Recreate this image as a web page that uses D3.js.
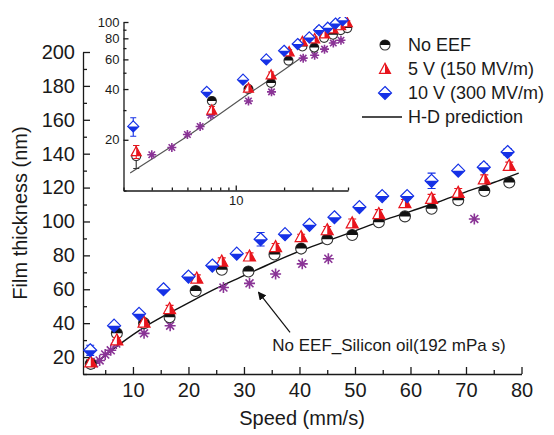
<!DOCTYPE html>
<html>
<head>
<meta charset="utf-8">
<script src="https://cdn.jsdelivr.net/npm/d3@7"></script>
<style>
  body { margin: 0; background: #fff; }
  svg { display: block; font-family: "Liberation Sans", Arial, sans-serif; }
</style>
</head>
<body>
<svg id="chart" width="554" height="435"></svg>
<script>
/*
  Film thickness vs speed, with log-log inset.
*/

// No EEF series.
const speed_noEEF = [2.4, 7.1, 12.0, 16.6, 21.3, 26.0, 30.8, 35.5, 40.3, 45.0, 49.5, 54.3, 59.0, 63.8, 68.6, 73.3, 77.8];
const film_noEEF = [16, 34, 40, 43.5, 59, 71.5, 70.5, 80.5, 84, 89.5, 92, 99.5, 103, 107.5, 112.5, 118, 123];
const err_noEEF = [2.5, 1.5, 2, 1.5, 2, 1.5, 1, 1.5, 1.5, 1.5, 1.5, 1.5, 1.5, 1.5, 1.5, 1.5, 1.5];

// 5 V series.
const speed_5V = [2.4, 7.1, 12.0, 16.6, 21.5, 26.0, 31.0, 35.7, 40.3, 45.0, 49.5, 54.3, 59.0, 63.8, 68.6, 73.3, 77.8];
const film_5V = [17, 30, 40.5, 48.5, 66.5, 76.5, 79.5, 85, 91, 95, 99, 104.5, 111, 113.5, 117, 125, 133];
const err_5V = [1.5, 1.5, 1.5, 2, 2, 2, 2, 2, 1.5, 2, 2.5, 2.5, 2, 2.5, 2.5, 2.5, 2];

// 10 V series.
const speed_10V = [2.3, 6.6, 11.1, 15.5, 20.0, 24.3, 28.7, 33.0, 37.4, 41.8, 46.3, 50.8, 54.9, 59.4, 63.8, 68.6, 73.2, 77.5];
const film_10V = [24, 38.5, 45.5, 60, 67.5, 74, 81, 89.5, 92.5, 98, 102.5, 108.5, 115, 115, 124, 130, 132, 141];
const err_10V = [3, 1.5, 1.5, 1, 1.5, 1.5, 1.5, 4, 1, 1, 1, 1.5, 2, 1.5, 4.5, 1, 2, 2];

// Silicon oil reference points (purple stars).
const speed_oil = [3.0, 4.0, 5.0, 6.0, 7.0, 12.0, 16.7, 26.3, 31.0, 35.7, 40.5, 45.2, 71.5];
const film_oil = [16.3, 18, 21.5, 24, 28, 34, 38.5, 61, 63.5, 69, 75, 78, 101.5];

// H-D prediction curve.
const speed_hd = [2.2, 5, 8, 12, 16, 20, 25, 30, 35, 40, 45, 50, 55, 60, 65, 70, 75, 79.5];
const film_hd = [12.7, 21, 28.5, 37.5, 45, 52, 60.5, 68, 75.5, 82.5, 88.5, 94.5, 100.5, 106, 111.5, 117.5, 123, 128.5];

// Tick values.
const main_xTicks = [10, 20, 30, 40, 50, 60, 70, 80];
const main_yTicks = [20, 40, 60, 80, 100, 120, 140, 160, 180, 200];
const inset_xTicks = [10];
const inset_yTicks = [20, 40, 60, 80, 100];

const legend_labels = ["No EEF", "5 V (150 MV/m)", "10 V (300 MV/m)", "H-D prediction"];
const annot_text = "No EEF_Silicon oil(192 mPa s)";

const col_red = "#e8141c", col_blue = "#1531e6", col_purple = "#8a3496", col_ink = "#1a1a1a";

let svg = d3.select("#chart");
svg.append("rect").attr("width", 554).attr("height", 435).attr("fill", "#fff");

// Scales.
let main_x = d3.scaleLinear().domain([1, 80]).range([83, 521.5]);
let main_y = d3.scaleLinear().domain([10, 200]).range([374, 52]);
let inset_x = d3.scaleLog().domain([2, 50]).range([123.5, 348]);
let inset_y = d3.scaleLog().domain([10, 100]).range([190.5, 22]);

// Symbol helpers (half filled, like the Origin markers).
const sym_circle = (g, r) => {
    g.append("circle").attr("r", r).attr("fill", "#fff").attr("stroke", "#333").attr("stroke-width", 1.1);
    g.append("path").attr("d", `M${-r},0A${r},${r} 0 0 1 ${r},0Z`).attr("fill", "#111");
};
const sym_triangle = (g, s) => {
    g.append("path").attr("d", `M0,${-1.05 * s}L${s},${0.8 * s}L${-s},${0.8 * s}Z`)
        .attr("fill", "#fff").attr("stroke", col_red).attr("stroke-width", 1.2);
    g.append("path").attr("d", `M0,${-1.05 * s}L${s},${0.8 * s}L0,${0.8 * s}Z`).attr("fill", col_red);
};
const sym_diamond = (g, s) => {
    g.append("path").attr("d", `M0,${-s}L${s},0L0,${s}L${-s},0Z`)
        .attr("fill", "#fff").attr("stroke", col_blue).attr("stroke-width", 1.2);
    g.append("path").attr("d", `M${-s},0L${s},0L0,${s}Z`).attr("fill", col_blue);
};
const sym_star = (g, s) => {
    let d = s * 0.72;
    g.append("path")
        .attr("d", `M${-s},0H${s}M0,${-s}V${s}M${-d},${-d}L${d},${d}M${-d},${d}L${d},${-d}`)
        .attr("stroke", col_purple).attr("stroke-width", 1.6).attr("fill", "none");
    g.append("circle").attr("r", s * 0.3).attr("fill", col_purple);
};

// Draw error bars + markers for one series.
const draw_series = (layer, xs, ys, es, xScale, yScale, sym, size, color, cap) => {
    let g = layer.append("g");
    xs.forEach((v, i) => {
        let px = xScale(v), py = yScale(ys[i]);
        if (es) {
            let y0 = yScale(ys[i] - es[i]), y1 = yScale(ys[i] + es[i]);
            g.append("path")
                .attr("d", `M${px},${y0}V${y1}M${px - cap},${y0}H${px + cap}M${px - cap},${y1}H${px + cap}`)
                .attr("stroke", color).attr("stroke-width", 1.1).attr("fill", "none");
        }
        sym(g.append("g").attr("transform", `translate(${px},${py})`), size);
    });
};

// Axes drawing helper.
const draw_axes = (xScale, yScale, xMajor, xMinor, yMajor, yMinor, fontSize, majLen, minLen, pad) => {
    let g = svg.append("g");
    let y0 = yScale.range()[0], x0 = xScale.range()[0];
    g.append("g").attr("transform", `translate(0,${y0})`)
        .call(d3.axisBottom(xScale).tickValues(xMajor).tickFormat(d3.format("d"))
            .tickSizeInner(-majLen).tickSizeOuter(0).tickPadding(pad));
    g.append("g").attr("transform", `translate(0,${y0})`)
        .call(d3.axisBottom(xScale).tickValues(xMinor).tickFormat("").tickSizeInner(-minLen).tickSizeOuter(0))
        .select(".domain").remove();
    g.append("g").attr("transform", `translate(${x0},0)`)
        .call(d3.axisLeft(yScale).tickValues(yMajor).tickFormat(d3.format("d"))
            .tickSizeInner(-majLen).tickSizeOuter(0).tickPadding(pad - 1));
    g.append("g").attr("transform", `translate(${x0},0)`)
        .call(d3.axisLeft(yScale).tickValues(yMinor).tickFormat("").tickSizeInner(-minLen).tickSizeOuter(0))
        .select(".domain").remove();
    g.selectAll("path, line").attr("stroke", col_ink).attr("stroke-width", 1.3);
    g.selectAll("g").attr("font-size", null).attr("font-family", null);
    g.selectAll("text").attr("fill", col_ink).attr("font-size", fontSize);
    return g;
};

// Main axes.
draw_axes(main_x, main_y, main_xTicks, [5, 15, 25, 35, 45, 55, 65, 75], main_yTicks,
    [10, 30, 50, 70, 90, 110, 130, 150, 170, 190], 20, 7, 4, 9);

// Inset axes.
draw_axes(inset_x, inset_y, inset_xTicks, [2, 3, 4, 5, 6, 7, 8, 9, 20, 30, 40, 50], inset_yTicks,
    [10, 30, 50, 70, 90], 13, 5, 3, 5);

// Axis titles.
svg.append("text").attr("x", 302).attr("y", 425).attr("text-anchor", "middle")
    .attr("font-size", 20).attr("fill", col_ink).text("Speed (mm/s)");
svg.append("text").attr("transform", "translate(27,213) rotate(-90)").attr("text-anchor", "middle")
    .attr("font-size", 20).attr("fill", col_ink).text("Film thickness (nm)");

// Main plot: curve then markers.
let main_layer = svg.append("g");
main_layer.append("path")
    .datum(speed_hd.map((v, i) => [v, film_hd[i]]))
    .attr("d", d3.line().x(d => main_x(d[0])).y(d => main_y(d[1])).curve(d3.curveMonotoneX))
    .attr("fill", "none").attr("stroke", "#111").attr("stroke-width", 1.4);
draw_series(main_layer, speed_oil, film_oil, null, main_x, main_y, sym_star, 5.5, col_purple, 0);
draw_series(main_layer, speed_noEEF, film_noEEF, err_noEEF, main_x, main_y, sym_circle, 5.5, "#333", 4);
draw_series(main_layer, speed_5V, film_5V, err_5V, main_x, main_y, sym_triangle, 6, col_red, 4);
draw_series(main_layer, speed_10V, film_10V, err_10V, main_x, main_y, sym_diamond, 6.5, col_blue, 4);

// Inset plot (clipped to its axes).
svg.append("clipPath").attr("id", "inset_clip")
    .append("rect").attr("x", 118).attr("y", 17).attr("width", 236).attr("height", 180);
let inset_layer = svg.append("g").attr("clip-path", "url(#inset_clip)");
inset_layer.append("path")
    .datum(speed_hd.map((v, i) => [v, film_hd[i]]).filter(d => d[0] <= 27))
    .attr("d", d3.line().x(d => inset_x(d[0])).y(d => inset_y(d[1])))
    .attr("fill", "none").attr("stroke", "#555").attr("stroke-width", 1.2);
const in_range = (xs) => xs.filter(v => v <= 50);
draw_series(inset_layer, in_range(speed_oil), film_oil, null, inset_x, inset_y, sym_star, 4.5, col_purple, 0);
draw_series(inset_layer, in_range(speed_noEEF), film_noEEF, err_noEEF, inset_x, inset_y, sym_circle, 4.5, "#333", 3);
draw_series(inset_layer, in_range(speed_5V), film_5V, err_5V, inset_x, inset_y, sym_triangle, 5, col_red, 3);
draw_series(inset_layer, in_range(speed_10V), film_10V, err_10V, inset_x, inset_y, sym_diamond, 5.5, col_blue, 3);

// Legend.
let legend = svg.append("g").attr("font-size", 18).attr("fill", col_ink);
const legend_syms = [sym_circle, sym_triangle, sym_diamond];
const legend_sizes = [5, 5.5, 6.5];
legend_labels.forEach((label, i) => {
    let ly = 45 + i * 24;
    if (i < 3) {
        legend_syms[i](legend.append("g").attr("transform", `translate(385,${ly})`), legend_sizes[i]);
    } else {
        legend.append("line").attr("x1", 362).attr("x2", 402).attr("y1", ly).attr("y2", ly)
            .attr("stroke", "#111").attr("stroke-width", 1.3);
    }
    legend.append("text").attr("x", 408).attr("y", ly).attr("dy", "0.35em").text(label);
});

// Annotation with arrow.
const annot_from = [38.3, 34.6], annot_to = [32.6, 58.3], annot_pos = [35.1, 23.6];
svg.append("defs").append("marker").attr("id", "arrowhead")
    .attr("viewBox", "0 0 10 10").attr("refX", 9).attr("refY", 5)
    .attr("markerWidth", 7).attr("markerHeight", 7).attr("orient", "auto")
    .append("path").attr("d", "M0,0L10,5L0,10Z").attr("fill", "#111");
svg.append("line")
    .attr("x1", main_x(annot_from[0])).attr("y1", main_y(annot_from[1]))
    .attr("x2", main_x(annot_to[0])).attr("y2", main_y(annot_to[1]))
    .attr("stroke", "#111").attr("stroke-width", 1.2).attr("marker-end", "url(#arrowhead)");
svg.append("text").attr("x", main_x(annot_pos[0])).attr("y", main_y(annot_pos[1]))
    .attr("font-size", 17).attr("fill", col_ink).text(annot_text);
</script>
</body>
</html>
